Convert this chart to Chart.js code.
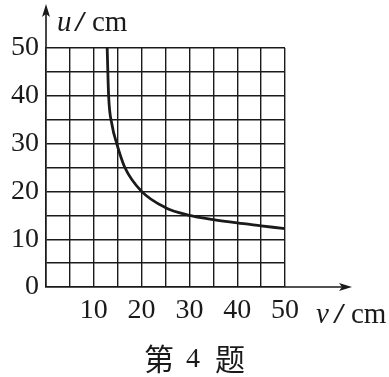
<!DOCTYPE html>
<html>
<head>
<meta charset="utf-8">
<script src="https://cdn.jsdelivr.net/npm/chart.js@4"></script>
<style>
  html, body { margin: 0; padding: 0; background: #fff; }
  #wrap { width: 389px; height: 377px; }
</style>
</head>
<body>
<div id="wrap"><canvas id="lensChart" width="389" height="377"></canvas></div>
<script>
// Data (image distance v vs object distance u)
const vValues = [12.8, 13.1, 13.8, 14.8, 16.5, 20, 25, 30, 35, 40, 45, 50];
const uValues = [50, 40, 34, 30, 25, 20, 16.6, 15, 14.1, 13.4, 12.8, 12.2];
const xTickLabels = ['10', '20', '30', '40', '50'];
const yTickLabels = ['0', '10', '20', '30', '40', '50'];
const xTitle = ['v', '/', 'cm'];
const yTitle = ['u', '/', 'cm'];
const caption = ['第', '4', '题'];

const SERIF = '"Liberation Serif", "DejaVu Serif", serif';
const CJK = '"Noto Sans CJK SC", sans-serif';
const INK = '#1a1a1a';

// draw "u/cm" style titles piece by piece: italic letter, slash, unit
function drawUnitTitle(ctx, parts, x, y) {
  ctx.textAlign = 'left';
  ctx.textBaseline = 'alphabetic';
  ctx.font = 'italic 29px ' + SERIF;
  ctx.fillText(parts[0], x, y);
  ctx.font = '29px ' + SERIF;
  ctx.save();
  ctx.translate(x + 23, y);
  ctx.scale(1.5, 1);
  ctx.textAlign = 'center';
  ctx.fillText(parts[1], 0, 0);
  ctx.restore();
  ctx.fillText(parts[2], x + 35, y);
}

// Arrows, axis titles and caption
const decorPlugin = {
  id: 'decor',
  afterDraw(chart) {
    const ctx = chart.ctx;
    const area = chart.chartArea;
    ctx.save();
    ctx.strokeStyle = INK;
    ctx.fillStyle = INK;
    ctx.lineWidth = 1.6;

    // y axis extension + arrow
    ctx.beginPath();
    ctx.moveTo(area.left, area.top);
    ctx.lineTo(area.left, 10);
    ctx.stroke();
    ctx.beginPath();
    ctx.moveTo(area.left, 4);
    ctx.lineTo(area.left - 4, 17);
    ctx.lineTo(area.left, 14);
    ctx.lineTo(area.left + 4, 17);
    ctx.closePath();
    ctx.fill();

    // x axis extension + arrow
    ctx.beginPath();
    ctx.moveTo(area.right, area.bottom);
    ctx.lineTo(345, area.bottom);
    ctx.stroke();
    ctx.beginPath();
    ctx.moveTo(352, area.bottom);
    ctx.lineTo(339, area.bottom - 4);
    ctx.lineTo(342, area.bottom);
    ctx.lineTo(339, area.bottom + 4);
    ctx.closePath();
    ctx.fill();

    // axis titles
    drawUnitTitle(ctx, yTitle, 57, 31);
    drawUnitTitle(ctx, xTitle, 316, 323);

    // caption
    ctx.textAlign = 'center';
    ctx.textBaseline = 'middle';
    ctx.font = '30px ' + CJK;
    ctx.fillText(caption[0], 159, 359);
    ctx.fillText(caption[2], 230, 359);
    ctx.font = '28px ' + SERIF;
    ctx.fillText(caption[1], 193, 360);
    ctx.restore();
  }
};

new Chart(document.getElementById('lensChart'), {
  type: 'scatter',
  data: {
    datasets: [{
      data: vValues.map((v, i) => ({ x: v, y: uValues[i] })),
      showLine: true,
      borderColor: INK,
      borderWidth: 2.8,
      pointRadius: 0,
      cubicInterpolationMode: 'monotone',
      fill: false
    }]
  },
  options: {
    responsive: false,
    animation: false,
    layout: { padding: { left: 0, top: 48, right: 104, bottom: 50 } },
    plugins: {
      legend: { display: false },
      tooltip: { enabled: false }
    },
    scales: {
      x: {
        type: 'linear',
        min: 0,
        max: 50,
        afterFit(scale) { scale.height = 40; },
        border: { display: true, color: INK, width: 1.6 },
        grid: { color: INK, lineWidth: 1.4, drawTicks: false },
        ticks: {
          stepSize: 5,
          padding: 7,
          color: INK,
          font: { family: SERIF, size: 28 },
          maxRotation: 0,
          autoSkip: false,
          callback: v => xTickLabels.includes(String(v)) ? String(v) : ''
        }
      },
      y: {
        type: 'linear',
        min: 0,
        max: 50,
        afterFit(scale) { scale.width = 46; },
        border: { display: true, color: INK, width: 1.6 },
        grid: { color: INK, lineWidth: 1.4, drawTicks: false },
        ticks: {
          stepSize: 5,
          padding: 7,
          color: INK,
          font: { family: SERIF, size: 28 },
          autoSkip: false,
          callback: v => yTickLabels.includes(String(v)) ? String(v) : ''
        }
      }
    }
  },
  plugins: [decorPlugin]
});
</script>
</body>
</html>
